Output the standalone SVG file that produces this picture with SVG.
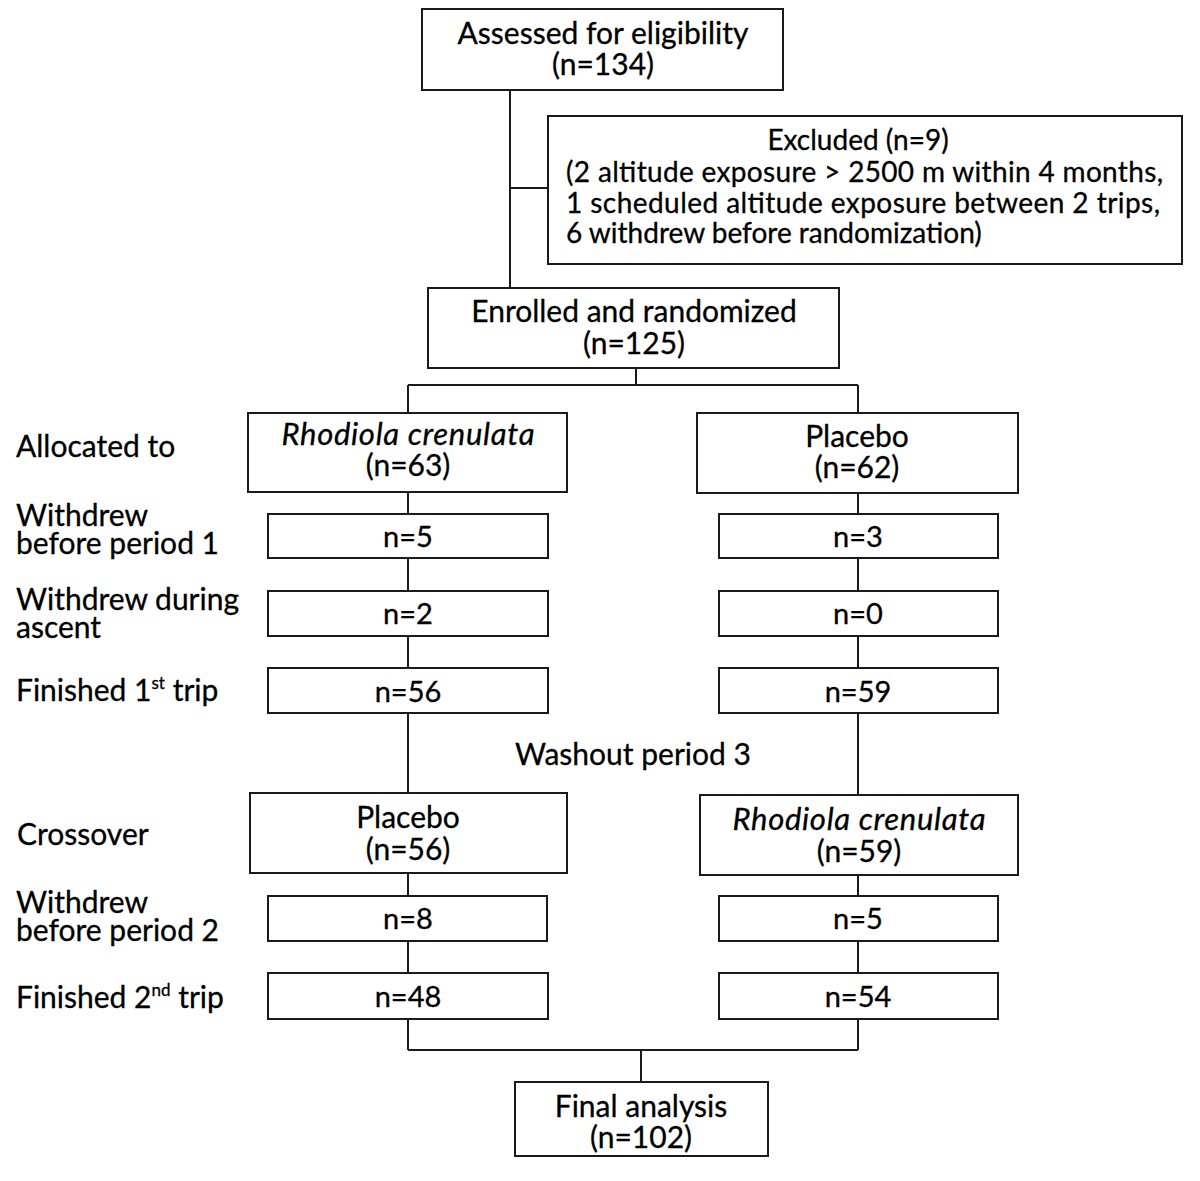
<svg xmlns="http://www.w3.org/2000/svg" width="1200" height="1181" viewBox="0 0 1200 1181">
<style>
.box{fill:#fff;stroke:#1a1a1a;stroke-width:2}
.ln{fill:none;stroke:#1a1a1a;stroke-width:2}
text{font-family:Lato,"Open Sans",sans-serif;font-size:30px;fill:#000;stroke:#000;stroke-width:0.3}
.c{text-anchor:middle}
.i{font-style:italic;font-size:31px}
.n{font-size:29px}
.x{font-size:28px}
.sup{font-size:17px}
</style>
<rect width="1200" height="1181" fill="#fff"/>
<g id="connectors">
<path class="ln" d="M510 90V288M510 188H548"/>
<path class="ln" d="M636 368V385M408 385H858M408 385V413M858 385V413"/>
<path class="ln" d="M408 492V514M408 558V591M408 636V668M408 713V793"/>
<path class="ln" d="M858 493V514M858 558V591M858 636V668M858 713V795"/>
<path class="ln" d="M408 873V896M408 941V973M408 1019V1050"/>
<path class="ln" d="M858 875V896M858 941V973M858 1019V1050"/>
<path class="ln" d="M408 1050H858M641 1050V1082"/>
</g>
<g id="assessed"><rect class="box" x="422" y="9" width="361" height="81"/>
<text class="c" x="603" y="44">Assessed for eligibility<tspan x="603" dy="31">(n=134)</tspan></text></g>
<g id="excluded"><rect class="box" x="548" y="116" width="634" height="148"/>
<text class="x" x="566" y="150"><tspan class="c" x="858">Excluded (n=9)</tspan><tspan x="566" dy="32" textLength="597">(2 altitude exposure &gt; 2500 m within 4 months,</tspan><tspan x="566" dy="31" textLength="594">1 scheduled altitude exposure between 2 trips,</tspan><tspan x="566" dy="30">6 withdrew before randomization)</tspan></text></g>
<g id="enrolled"><rect class="box" x="428" y="288" width="411" height="80"/>
<text class="c" x="634" y="322">Enrolled and randomized<tspan x="634" dy="32">(n=125)</tspan></text></g>
<g id="labels">
<text x="16" y="457">Allocated to</text>
<text x="16" y="526">Withdrew<tspan x="16" dy="28">before period 1</tspan></text>
<text x="16" y="610">Withdrew during<tspan x="16" dy="28">ascent</tspan></text>
<text x="16" y="701">Finished 1<tspan class="sup" dy="-12">st</tspan><tspan dy="12"> trip</tspan></text>
<text x="17" y="845">Crossover</text>
<text x="16" y="913">Withdrew<tspan x="16" dy="28">before period 2</tspan></text>
<text x="16" y="1008">Finished 2<tspan class="sup" dy="-12">nd</tspan><tspan dy="12"> trip</tspan></text>
</g>
<g id="rc1"><rect class="box" x="248" y="413" width="319" height="79"/>
<text class="c" x="408" y="445"><tspan class="i" textLength="253">Rhodiola crenulata</tspan><tspan x="408" dy="31">(n=63)</tspan></text></g>
<g id="pl1"><rect class="box" x="697" y="413" width="321" height="80"/>
<text class="c" x="857" y="447">Placebo<tspan x="857" dy="31">(n=62)</tspan></text></g>
<g id="w1l"><rect class="box" x="268" y="514" width="280" height="44"/><text class="c n" x="408" y="547">n=5</text></g>
<g id="w1r"><rect class="box" x="719" y="514" width="279" height="44"/><text class="c n" x="858" y="547">n=3</text></g>
<g id="w2l"><rect class="box" x="268" y="591" width="280" height="45"/><text class="c n" x="408" y="624">n=2</text></g>
<g id="w2r"><rect class="box" x="719" y="591" width="279" height="45"/><text class="c n" x="858" y="624">n=0</text></g>
<g id="f1l"><rect class="box" x="268" y="668" width="280" height="45"/><text class="c n" x="408" y="702">n=56</text></g>
<g id="f1r"><rect class="box" x="719" y="668" width="279" height="45"/><text class="c n" x="858" y="702">n=59</text></g>
<g id="washout"><text class="c" x="633" y="765">Washout period 3</text></g>
<g id="pl2"><rect class="box" x="250" y="793" width="317" height="80"/>
<text class="c" x="408" y="828">Placebo<tspan x="408" dy="32">(n=56)</tspan></text></g>
<g id="rc2"><rect class="box" x="700" y="795" width="318" height="80"/>
<text class="c" x="859" y="830"><tspan class="i" textLength="253">Rhodiola crenulata</tspan><tspan x="859" dy="32">(n=59)</tspan></text></g>
<g id="w3l"><rect class="box" x="268" y="896" width="279" height="45"/><text class="c n" x="408" y="929">n=8</text></g>
<g id="w3r"><rect class="box" x="719" y="896" width="279" height="45"/><text class="c n" x="858" y="929">n=5</text></g>
<g id="f2l"><rect class="box" x="268" y="973" width="280" height="46"/><text class="c n" x="408" y="1007">n=48</text></g>
<g id="f2r"><rect class="box" x="719" y="973" width="279" height="46"/><text class="c n" x="858" y="1007">n=54</text></g>
<g id="final"><rect class="box" x="515" y="1082" width="253" height="74"/>
<text class="c" x="641" y="1117">Final analysis<tspan x="641" dy="31">(n=102)</tspan></text></g>
</svg>
